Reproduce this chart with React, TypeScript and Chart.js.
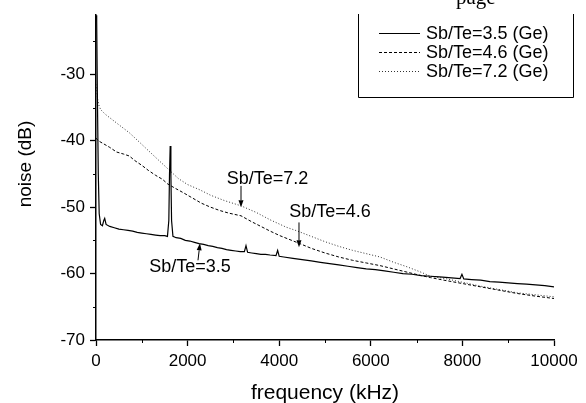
import { useEffect, useRef } from "react";
import { Chart, registerables } from "chart.js";

Chart.register(...registerables);

// ---- axis setup ----
const X_MIN = 0;
const X_MAX = 10000;
const Y_MIN = -70;
const Y_MAX = -21.1;
const xTicks = [0, 2000, 4000, 6000, 8000, 10000];
const xMinorTicks = [1000, 3000, 5000, 7000, 9000];
const yTicks = [-70, -60, -50, -40, -30];
const yMinorTicks = [-65, -55, -45, -35, -25];

const seriesLabels = ["Sb/Te=3.5 (Ge)", "Sb/Te=4.6 (Ge)", "Sb/Te=7.2 (Ge)"];

// ---- Sb/Te = 3.5 (solid) ----
const freq35 = [
  0, 15, 30, 50, 70, 100, 140, 170, 190, 220, 300, 400, 500, 600, 700, 800, 900, 1000,
  1100, 1200, 1300, 1400, 1500, 1560, 1590, 1605, 1620, 1635, 1650, 1680, 1750, 1850,
  1950, 2050, 2150, 2250, 2350, 2450, 2550, 2650, 2750, 2850, 2950, 3050, 3150, 3240,
  3275, 3310, 3400, 3500, 3600, 3700, 3800, 3930, 3966, 4000, 4100, 4300, 4500, 4700,
  4900, 5100, 5300, 5500, 5700, 5900, 6100, 6300, 6500, 6700, 6900, 7100, 7300, 7500,
  7700, 7950, 7990, 8030, 8200, 8400, 8600, 8800, 9000, 9200, 9400, 9600, 9800, 10000,
];
const noise35 = [
  -15, -22, -33, -45, -51, -52.6, -52.8, -52.0, -51.7, -52.6, -52.9, -53.1, -53.3, -53.4,
  -53.5, -53.6, -53.8, -53.9, -54.0, -54.1, -54.2, -54.3, -54.3, -54.4, -52, -45, -40.8,
  -45, -52, -54.4, -54.6, -54.7, -55.0, -55.1, -55.3, -55.5, -55.6, -55.8, -55.9, -56.1,
  -56.2, -56.4, -56.5, -56.6, -56.7, -56.7, -55.8, -56.8, -56.9, -57.0, -57.1, -57.1,
  -57.2, -57.3, -56.5, -57.4, -57.5, -57.7, -57.9, -58.1, -58.3, -58.5, -58.7, -58.9,
  -59.1, -59.3, -59.4, -59.6, -59.8, -60.0, -60.1, -60.3, -60.4, -60.5, -60.6, -60.75,
  -60.1, -60.8, -60.9, -61.0, -61.2, -61.3, -61.4, -61.5, -61.6, -61.7, -61.8, -62.0,
];

// ---- Sb/Te = 4.6 (dashed) ----
const freq46 = [
  0, 50, 150, 300, 450, 600, 728, 850, 1000, 1150, 1300, 1450, 1565, 1740, 1900, 2100,
  2300, 2500, 2700, 2900, 3166, 3400, 3600, 3800, 4017, 4200, 4454, 4700, 5000, 5300,
  5600, 5900, 6200, 6500, 6800, 7100, 7300, 7600, 8000, 8400, 8800, 9200, 9600, 10000,
];
const noise46 = [
  -39.6, -40.0, -40.4, -41.0, -41.7, -42.0, -42.3, -43.0, -43.7, -44.5, -45.2, -45.8,
  -46.5, -47.2, -47.8, -48.6, -49.4, -50.0, -50.5, -50.9, -51.3, -52.2, -52.9, -53.6,
  -54.3, -54.8, -55.5, -56.2, -56.9, -57.5, -58.0, -58.4, -58.8, -59.3, -59.8, -60.3,
  -60.6, -61.0, -61.5, -62.0, -62.5, -63.0, -63.4, -63.75,
];

// ---- Sb/Te = 7.2 (dotted) ----
const freq72 = [
  0, 30, 60, 100, 200, 350, 500, 728, 900, 1100, 1300, 1565, 1800, 2000, 2270, 2500,
  2800, 3166, 3500, 3800, 4148, 4400, 4700, 5000, 5300, 5600, 5900, 6200, 6500, 6800,
  7100, 7300, 7660, 8000, 8400, 8800, 9200, 9600, 10000,
];
const noise72 = [
  -31.5, -33.5, -34.6, -35.3, -36.0, -36.8, -37.6, -38.8, -39.9, -41.2, -42.5, -44.2,
  -45.7, -46.6, -47.4, -48.2, -49.0, -49.8, -50.8, -51.9, -53.0, -53.6, -54.4, -55.2,
  -55.9, -56.5, -57.0, -57.5, -58.3, -59.0, -59.8, -60.4, -60.8, -61.3, -61.9, -62.4,
  -62.9, -63.2, -63.5,
];

// ---- in-plot labels with arrows (data coordinates) ----
const annotationTexts = ["Sb/Te=7.2", "Sb/Te=4.6", "Sb/Te=3.5"];
const annotationTextX = [3745, 5109, 2052];
const annotationTextY = [-45.7, -50.8, -59.05];
const arrowFromX = [3166, 4432, 2227];
const arrowFromY = [-46.8, -52.3, -58.0];
const arrowToX = [3166, 4432, 2270];
const arrowToY = [-50.0, -56.05, -55.45];

const FONT = '"Liberation Sans", Arial, sans-serif';

function toPoints(xs: number[], ys: number[]) {
  return xs.map((x, i) => ({ x, y: ys[i] }));
}

const overlayPlugin = {
  id: "overlay",
  afterDraw(chart: any) {
    const ctx: CanvasRenderingContext2D = chart.ctx;
    const xs = chart.scales.x;
    const ys = chart.scales.y;
    const area = chart.chartArea;
    ctx.save();
    ctx.strokeStyle = "#000";
    ctx.fillStyle = "#000";

    // minor ticks
    ctx.lineWidth = 1;
    ctx.beginPath();
    xMinorTicks.forEach((v) => {
      const px = Math.round(xs.getPixelForValue(v)) + 0.5;
      ctx.moveTo(px, area.bottom);
      ctx.lineTo(px, area.bottom + 3);
    });
    yMinorTicks.forEach((v) => {
      const py = Math.round(ys.getPixelForValue(v)) + 0.5;
      ctx.moveTo(area.left, py);
      ctx.lineTo(area.left - 3, py);
    });
    ctx.stroke();

    // axis titles
    ctx.textAlign = "center";
    ctx.textBaseline = "middle";
    ctx.font = `21px ${FONT}`;
    ctx.fillText("frequency (kHz)", (area.left + area.right) / 2, 393);
    ctx.font = `19px ${FONT}`;
    ctx.save();
    ctx.translate(26, 164);
    ctx.rotate(-Math.PI / 2);
    ctx.fillText("noise (dB)", 0, 0);
    ctx.restore();

    // annotations with arrows
    ctx.font = `18px ${FONT}`;
    annotationTexts.forEach((t, i) => {
      ctx.fillText(t, xs.getPixelForValue(annotationTextX[i]), ys.getPixelForValue(annotationTextY[i]));
      const x0 = xs.getPixelForValue(arrowFromX[i]);
      const y0 = ys.getPixelForValue(arrowFromY[i]);
      const x1 = xs.getPixelForValue(arrowToX[i]);
      const y1 = ys.getPixelForValue(arrowToY[i]);
      const ang = Math.atan2(y1 - y0, x1 - x0);
      const hl = 7;
      const hw = 2.5;
      const bx = x1 - hl * Math.cos(ang);
      const by = y1 - hl * Math.sin(ang);
      ctx.lineWidth = 1;
      ctx.beginPath();
      ctx.moveTo(x0, y0);
      ctx.lineTo(bx, by);
      ctx.stroke();
      ctx.beginPath();
      ctx.moveTo(x1, y1);
      ctx.lineTo(bx + hw * Math.sin(ang), by - hw * Math.cos(ang));
      ctx.lineTo(bx - hw * Math.sin(ang), by + hw * Math.cos(ang));
      ctx.closePath();
      ctx.fill();
    });

    // legend box (open at the top, as in the reference)
    const lx0 = 358.5;
    const lx1 = 573.5;
    const ly0 = 14;
    const ly1 = 97.5;
    ctx.lineWidth = 1;
    ctx.setLineDash([]);
    ctx.beginPath();
    ctx.moveTo(lx0, ly0);
    ctx.lineTo(lx0, ly1);
    ctx.lineTo(lx1, ly1);
    ctx.lineTo(lx1, ly0);
    ctx.stroke();
    ctx.font = `18px ${FONT}`;
    ctx.textAlign = "left";
    chart.data.datasets.forEach((ds: any, i: number) => {
      const y = 33 + i * 19;
      ctx.save();
      ctx.strokeStyle = ds.borderColor;
      ctx.lineWidth = ds.borderWidth;
      ctx.setLineDash(ds.borderDash || []);
      ctx.beginPath();
      ctx.moveTo(379, y + 0.5);
      ctx.lineTo(420, y + 0.5);
      ctx.stroke();
      ctx.restore();
      ctx.fillText(ds.label, 426, y + 1);
    });

    // clipped page text at the top
    ctx.font = `21px "Liberation Serif", "Times New Roman", serif`;
    ctx.textBaseline = "alphabetic";
    ctx.fillText("page", 456, 4);

    ctx.restore();
  },
};

export default function App() {
  const ref = useRef<HTMLCanvasElement | null>(null);

  useEffect(() => {
    document.body.style.margin = "0";
    if (!ref.current) return;
    const chart = new Chart(ref.current, {
      type: "line",
      data: {
        datasets: [
          {
            label: seriesLabels[0],
            data: toPoints(freq35, noise35),
            borderColor: "#000",
            borderWidth: 1.2,
            pointRadius: 0,
            tension: 0,
          },
          {
            label: seriesLabels[1],
            data: toPoints(freq46, noise46),
            borderColor: "#000",
            borderWidth: 1,
            borderDash: [3, 2],
            pointRadius: 0,
            tension: 0,
          },
          {
            label: seriesLabels[2],
            data: toPoints(freq72, noise72),
            borderColor: "#333",
            borderWidth: 1,
            borderDash: [1, 2],
            pointRadius: 0,
            tension: 0,
          },
        ],
      },
      options: {
        animation: false,
        responsive: true,
        maintainAspectRatio: false,
        devicePixelRatio: 1,
        layout: { padding: { left: 0, right: 32, top: 14, bottom: 0 } },
        plugins: {
          legend: { display: false },
          tooltip: { enabled: false },
          title: { display: false },
        },
        scales: {
          x: {
            type: "linear",
            min: X_MIN,
            max: X_MAX,
            afterFit: (s: any) => {
              s.height = 63;
            },
            afterBuildTicks: (s: any) => {
              s.ticks = xTicks.map((v) => ({ value: v }));
            },
            grid: {
              drawOnChartArea: false,
              drawTicks: true,
              tickLength: 6,
              tickColor: "#000",
              tickWidth: 1.3,
            },
            border: { display: true, color: "#000", width: 1.5 },
            ticks: {
              color: "#000",
              font: { family: FONT, size: 17 },
              padding: 5,
              maxRotation: 0,
              autoSkip: false,
              callback: (v: any) => String(v),
            },
          },
          y: {
            type: "linear",
            min: Y_MIN,
            max: Y_MAX,
            afterFit: (s: any) => {
              s.width = 96;
            },
            afterBuildTicks: (s: any) => {
              s.ticks = yTicks.map((v) => ({ value: v }));
            },
            grid: {
              drawOnChartArea: false,
              drawTicks: true,
              tickLength: 6,
              tickColor: "#000",
              tickWidth: 1.3,
            },
            border: { display: true, color: "#000", width: 1.5 },
            ticks: {
              color: "#000",
              font: { family: FONT, size: 17 },
              padding: 5,
              autoSkip: false,
              callback: (v: any) => String(v),
            },
          },
        },
      },
      plugins: [overlayPlugin],
    });
    return () => chart.destroy();
  }, []);

  return (
    <div style={{ position: "fixed", left: 0, top: 0, width: 586, height: 403, background: "#fff" }}>
      <canvas ref={ref} width={586} height={403} />
    </div>
  );
}
